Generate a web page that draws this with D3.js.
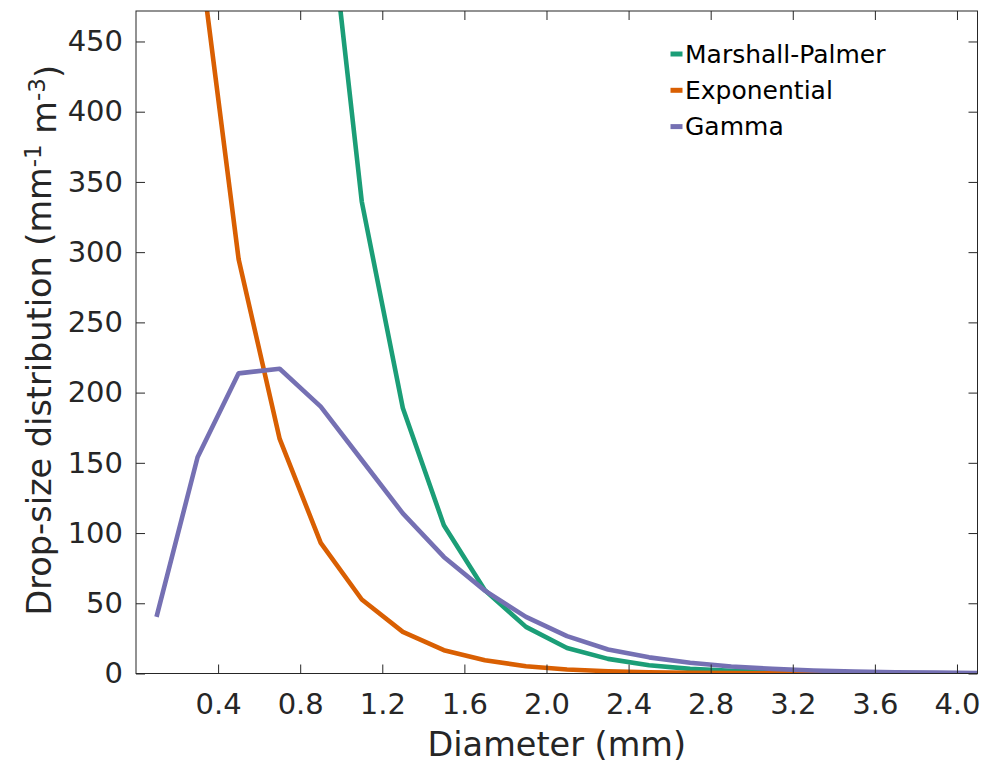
<!DOCTYPE html>
<html>
<head>
<meta charset="utf-8">
<script src="https://cdn.jsdelivr.net/npm/d3@7"></script>
<style>
  body { margin: 0; background: #fff; }
  svg { display: block; font-family: "DejaVu Sans", sans-serif; }
</style>
</head>
<body>
<div id="chart"></div>
<script>
// drop diameters (mm), same for every curve
var diameters = [0.1, 0.3, 0.5, 0.7, 0.9, 1.1, 1.3, 1.5, 1.7, 1.9, 2.1,
                 2.3, 2.5, 2.7, 2.9, 3.1, 3.3, 3.5, 3.7, 3.9, 4.1]

// (values above the top of the axes are estimates)
var marshallPalmer = [5970, 3360, 1890, 1065, 598, 336, 189, 105.6, 59.3, 33.2, 18.2,
                      10.4, 5.9, 3.3, 1.9, 1.05, 0.6, 0.33, 0.19, 0.1, 0.06]
var exponential = [930, 525, 295, 167, 93, 52.7, 29.6, 16.6, 9.5, 5.2, 2.9,
                   1.6, 0.9, 0.5, 0.29, 0.16, 0.09, 0.05, 0.03, 0.016, 0.009]
var gamma = [40.3, 154, 213.7, 217, 190, 152, 114, 83, 59, 40.3, 26.6,
             17.1, 11.5, 7.6, 5.0, 3.3, 2.1, 1.4, 0.9, 0.6, 0.37]

var seriesNames = ["Marshall-Palmer", "Exponential", "Gamma"]
var seriesColors = ["#1b9e77", "#d95f02", "#7570b3"]
var xTicks = [0.4, 0.8, 1.2, 1.6, 2.0, 2.4, 2.8, 3.2, 3.6, 4.0]
var yTicks = [0, 50, 100, 150, 200, 250, 300, 350, 400, 450]

var W = 987, H = 765
var margin = {top: 11, right: 9.5, bottom: 91.5, left: 136}
var width = W - margin.left - margin.right
var height = H - margin.top - margin.bottom
var axisColor = "#262626"

var x = d3.scaleLinear().domain([0, 4.1]).range([0, width])
var y = d3.scaleLinear().domain([0, 471.7]).range([height, 0])

var svg = d3.select("#chart").append("svg")
    .attr("width", W)
    .attr("height", H)
  .append("g")
    .attr("transform", "translate(" + margin.left + "," + margin.top + ")")

svg.append("defs").append("clipPath")
    .attr("id", "plotclip")
  .append("rect")
    .attr("width", width)
    .attr("height", height)

var series = [marshallPalmer, exponential, gamma].map(function(vals, i) {
  return {
    name: seriesNames[i],
    color: seriesColors[i],
    points: vals.map(function(v, j) { return {d: diameters[j], v: v} })
  }
})

var line = d3.line()
    .x(function(p) { return x(p.d) })
    .y(function(p) { return y(p.v) })

svg.append("g")
    .attr("clip-path", "url(#plotclip)")
  .selectAll("path")
    .data(series)
  .enter().append("path")
    .attr("fill", "none")
    .attr("stroke", function(s) { return s.color })
    .attr("stroke-width", 4.6)
    .attr("stroke-linejoin", "round")
    .attr("d", function(s) { return line(s.points) })

// axes with inward ticks, MATLAB box style
var tickLen = 9
var xAxis = d3.axisBottom(x)
    .tickValues(xTicks)
    .tickFormat(d3.format(".1f"))
    .tickSizeInner(-tickLen)
    .tickSizeOuter(0)
    .tickPadding(20)
var yAxis = d3.axisLeft(y)
    .tickValues(yTicks)
    .tickSizeInner(-tickLen)
    .tickSizeOuter(0)
    .tickPadding(13)

var gx = svg.append("g")
    .attr("transform", "translate(0," + height + ")")
    .call(xAxis)
var gy = svg.append("g").call(yAxis)

// top and right ticks without labels
svg.append("g")
    .call(d3.axisTop(x).tickValues(xTicks).tickSizeInner(-tickLen).tickSizeOuter(0).tickFormat(""))
svg.append("g")
    .attr("transform", "translate(" + width + ",0)")
    .call(d3.axisRight(y).tickValues(yTicks).tickSizeInner(-tickLen).tickSizeOuter(0).tickFormat(""))

svg.selectAll(".domain").remove()
svg.selectAll(".tick line").attr("stroke", axisColor)
svg.selectAll(".tick text")
    .attr("fill", axisColor)
    .style("font-size", "29px")
    .style("font-family", "DejaVu Sans")

svg.append("rect")
    .attr("width", width)
    .attr("height", height)
    .attr("fill", "none")
    .attr("stroke", axisColor)
    .attr("stroke-width", 1)

// axis labels
svg.append("text")
    .attr("x", width / 2)
    .attr("y", height + 82)
    .attr("text-anchor", "middle")
    .attr("fill", axisColor)
    .style("font-size", "33.5px")
    .text("Diameter (mm)")

var ylab = svg.append("text")
    .attr("transform", "translate(" + (51 - margin.left) + "," + (height / 2 - 2) + ") rotate(-90)")
    .attr("text-anchor", "middle")
    .attr("fill", axisColor)
    .style("font-size", "33.5px")
ylab.append("tspan").text("Drop-size distribution (mm")
ylab.append("tspan").attr("dy", "-0.45em").style("font-size", "23px").text("-1")
ylab.append("tspan").attr("dy", "0.45em").text(" m")
ylab.append("tspan").attr("dy", "-0.45em").style("font-size", "23px").text("-3")
ylab.append("tspan").attr("dy", "0.45em").text(")")

// legend
var legend = svg.append("g")
    .attr("transform", "translate(" + (670.5 - margin.left) + "," + (54 - margin.top) + ")")
var item = legend.selectAll("g")
    .data(series)
  .enter().append("g")
    .attr("transform", function(s, i) { return "translate(0," + (i * 36.3) + ")" })
item.append("line")
    .attr("x1", 0).attr("x2", 12)
    .attr("stroke", function(s) { return s.color })
    .attr("stroke-width", 5)
item.append("text")
    .attr("x", 14.5)
    .attr("dy", "0.35em")
    .attr("fill", "#000")
    .style("font-size", "25px")
    .text(function(s) { return s.name })
</script>
</body>
</html>
